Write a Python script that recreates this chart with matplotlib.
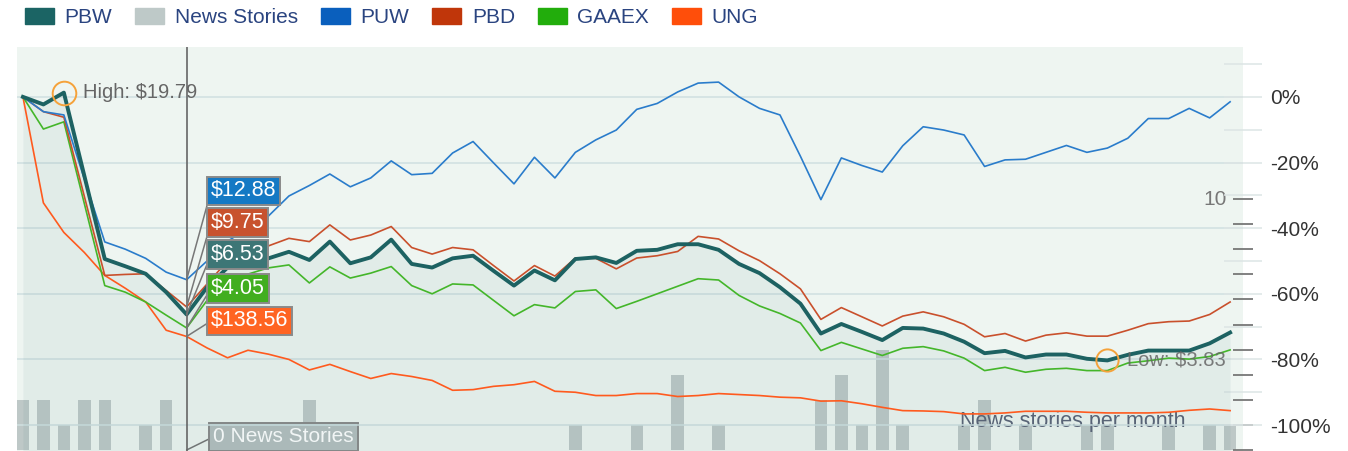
import numpy as np
import matplotlib
matplotlib.use("Agg")
import matplotlib.pyplot as plt
from matplotlib.patches import Patch
from matplotlib.ticker import FixedLocator, FuncFormatter

plt.rcParams['font.family'] = ['Liberation Sans', 'DejaVu Sans']

# monthly % change, 60 months
pbw = [0, -2.3, 1.3, -24, -49.4, -51.6, -53.9, -59.5, -66.3, -58,
       -52, -50, -49.2, -47.2, -49.7, -44.1, -50.7, -48.9, -43.5, -50.9,
       -52.0, -49.2, -48.4, -53.0, -57.5, -52.9, -55.9, -49.4, -48.9, -50.6,
       -46.9, -46.6, -44.9, -44.9, -46.6, -50.9, -53.7, -58.0, -63.0, -72.1,
       -69.2, -71.6, -74.1, -70.4, -70.6, -72.1, -74.6, -78.1, -77.4, -79.4,
       -78.5, -78.5, -79.8, -80.3, -78.6, -77.3, -77.3, -77.3, -75.1, -71.8]
puw = [0, -4.5, -5.5, -25, -44.2, -46.4, -49.2, -53.4, -55.7, -50,
       -44, -40, -36.3, -30.2, -27, -23.5, -27.4, -24.7, -19.5, -23.7,
       -23.3, -17.1, -13.6, -20.1, -26.5, -18.4, -24.7, -16.9, -13.1, -10.1,
       -3.8, -2.0, 1.5, 4.2, 4.5, 0, -3.5, -5.5, -18.1, -31.3,
       -18.6, -20.9, -22.9, -14.9, -9.1, -10.1, -11.6, -21.2, -19.2, -19.0,
       -16.9, -14.8, -16.9, -15.6, -12.6, -6.6, -6.6, -3.5, -6.4, -1.5]
pbd = [0, -4.5, -6.2, -30.3, -54.4, -54.1, -53.9, -59, -64.0, -57,
       -50, -47, -45.4, -43.1, -44.1, -39.0, -43.6, -42.1, -39.5, -45.9,
       -47.9, -45.9, -46.6, -51.4, -56.1, -51.4, -54.6, -49.1, -49.2, -52.4,
       -49.1, -48.4, -47.1, -42.5, -43.3, -46.9, -49.9, -53.9, -58.5, -67.8,
       -64.2, -67.0, -69.8, -66.8, -65.5, -67.0, -69.3, -73.1, -72.1, -74.4,
       -72.6, -71.9, -72.9, -72.9, -71.1, -69.1, -68.5, -68.3, -66.3, -62.5]
gaaex = [0, -9.8, -7.6, -32.5, -57.5, -59.5, -62.5, -66.5, -70.4, -62,
         -57, -54, -52.1, -51.2, -56.7, -51.8, -55.2, -53.7, -51.7, -57.5,
         -60.0, -57.0, -57.3, -62.0, -66.7, -63.3, -64.3, -59.3, -58.8, -64.5,
         -62.3, -60.0, -57.7, -55.4, -55.8, -60.5, -63.7, -66.0, -68.9, -77.3,
         -74.8, -76.8, -78.8, -76.6, -76.1, -77.4, -79.6, -83.4, -82.4, -83.9,
         -83.0, -82.7, -83.4, -83.4, -81.1, -80.4, -79.6, -79.9, -79.1, -77.1]
ung = [0, -32.3, -41.3, -47.4, -54.4, -58.3, -62.5, -71.1, -73.0, -76.5,
       -79.5, -77.2, -78.4, -80.0, -83.2, -81.5, -83.7, -85.8, -84.3, -85.2,
       -86.4, -89.4, -89.2, -88.2, -87.7, -86.7, -89.7, -90.0, -91.0, -91.0,
       -90.4, -90.4, -91.3, -91.0, -90.4, -90.7, -91.0, -91.5, -91.7, -92.7,
       -92.6, -93.5, -94.6, -95.6, -95.7, -95.9, -96.6, -96.6, -96.3, -95.8,
       -95.8, -95.8, -96.1, -96.3, -96.3, -96.3, -96.1, -95.5, -95.1, -95.6]
news = [2, 2, 1, 2, 2, 0, 1, 2, 0, 0,
        0, 0, 0, 0, 2, 0, 0, 0, 0, 0,
        0, 0, 0, 0, 0, 0, 0, 1, 0, 0,
        1, 0, 3, 0, 1, 0, 0, 0, 0, 2,
        3, 1, 4, 1, 0, 0, 1, 2, 0, 1,
        0, 0, 1, 1, 0, 0, 1, 0, 1, 1]

year_marks = [6, 18, 30, 42, 54]
cursor = 8
tip_labels = ['$12.88', '$9.75', '$6.53', '$4.05', '$138.56']
high_idx, high_text = 2, 'High: $19.79'
low_idx, low_text = 53, 'Low: $3.83'

idx = np.arange(len(pbw))

fig = plt.figure(figsize=(13.48, 4.51), dpi=100)
ax = fig.add_axes([17 / 1348, 0, 1226 / 1348, 404 / 451])
ax2 = ax.twinx()

# news bars (bottom axes)
ax.set_facecolor('#eef5f1')
ax.bar(idx, news, width=0.61, color='#bec8c7', zorder=1)
ax.set_ylim(-0.04, 16.06)
ax.set_xlim(-0.29, 59.63)
ax.yaxis.tick_right()
ax.set_yticks(range(0, 11))
ax.set_yticklabels([])
ax.tick_params(axis='y', direction='inout', length=14, width=1.3, color='#777')
ax.set_xticks([])
ax.annotate('10', xy=(1, 10), xycoords=('axes fraction', 'data'),
            xytext=(-12, 0), textcoords='offset points', ha='right', va='center',
            fontsize=15, color='#777')
ax.text(0.9527, 0.072, 'News stories per month', transform=ax.transAxes,
        ha='right', va='center', fontsize=15.5, color='#5c6478', zorder=5)

# price lines (top axes)
ax2.patch.set_visible(False)
ax2.set_ylim(-107.9, 15.2)
ax2.set_xlim(-0.29, 59.63)
ax2.fill_between(idx, pbw, -108, color='#1b6464', alpha=0.06, lw=0, zorder=1)
ax2.plot(idx, ung, color='#ff5a1e', lw=1.2, zorder=3)
ax2.plot(idx, gaaex, color='#44b62a', lw=1.2, zorder=3)
ax2.plot(idx, pbd, color='#c9502c', lw=1.2, zorder=3)
ax2.plot(idx, puw, color='#2a7ccb', lw=1.2, zorder=3)
ax2.plot(idx, pbw, color='#1d6262', lw=2.8, zorder=4)

ax2.yaxis.set_major_locator(FixedLocator(range(0, -101, -20)))
ax2.yaxis.set_minor_locator(FixedLocator(range(10, -100, -20)))
ax2.yaxis.set_major_formatter(FuncFormatter(lambda v, p: f'{v:.0f}%'))
ax2.tick_params(axis='y', which='both', direction='inout', length=27, width=1.1,
                color='#dde5e5', labelsize=15, labelcolor='#333', pad=6)
ax2.set_xticks(year_marks)
ax2.set_xticklabels([])
ax2.tick_params(axis='x', length=0)
ax2.grid(True, color='#cfe0e1', lw=1.1, zorder=0)
ax2.set_axisbelow(True)
for a in (ax, ax2):
    for s in a.spines.values():
        s.set_visible(False)

# high / low markers
ax2.plot(high_idx, pbw[high_idx], 'o', mfc='none', mec='#f5a23a', ms=17, mew=1.4, zorder=6)
ax2.annotate(high_text, xy=(high_idx, pbw[high_idx]), xytext=(14, 0),
             textcoords='offset points', va='center', fontsize=14.5, color='#666', zorder=6)
ax2.plot(low_idx, pbw[low_idx], 'o', mfc='none', mec='#f5a23a', ms=16, mew=1.4, zorder=6)
ax2.annotate(low_text, xy=(low_idx, pbw[low_idx]), xytext=(14, 0),
             textcoords='offset points', va='center', fontsize=14.5, color='#666',
             alpha=0.85, zorder=6)

# cursor + tooltips
ax2.axvline(cursor, color='#666', lw=1.2, zorder=7)
tip_series = [puw, pbd, pbw, gaaex, ung]
tip_colors = ['#1479c4', '#c8522e', '#3d7676', '#41ae1f', '#ff6422']
tip_y = [260, 228.5, 196.5, 162.5, 130]
for lab, ser, col, ty in zip(tip_labels, tip_series, tip_colors, tip_y):
    ax2.annotate(lab, xy=(cursor, ser[cursor]), xytext=(211, ty),
                 textcoords='figure pixels', va='center', ha='left',
                 fontsize=15.5, color='white', zorder=8,
                 bbox=dict(boxstyle='square,pad=0.17', fc=col, ec='#8a8a8a', lw=1.4),
                 arrowprops=dict(arrowstyle='-', color='#777', lw=1.1,
                                 shrinkA=0, shrinkB=0, relpos=(0, 0.5)))
ax.annotate('0 News Stories', xy=(cursor, news[cursor]), xytext=(213, 14),
            textcoords='figure pixels', va='center', ha='left',
            fontsize=15, color='white', zorder=8, annotation_clip=False,
            bbox=dict(boxstyle='square,pad=0.2', fc='#b5bfbf', ec='#8a8a8a', lw=1.4),
            arrowprops=dict(arrowstyle='-', color='#777', lw=1.1,
                            shrinkA=0, shrinkB=0, relpos=(0, 0.5)))

# legend
handles = [Patch(color='#1b6464'), Patch(color='#bec9c8'), Patch(color='#0a5fbd'),
           Patch(color='#c0360a'), Patch(color='#22ad0c'), Patch(color='#ff4e0a')]
labels = ['PBW', 'News Stories', 'PUW', 'PBD', 'GAAEX', 'UNG']
leg = fig.legend(handles, labels, ncol=6, loc='center left',
                 bbox_to_anchor=(25 / 1348, 1 - 17.5 / 451), frameon=False,
                 fontsize=15, handlelength=1.4, handleheight=0.85,
                 handletextpad=0.5, columnspacing=1.1, borderpad=0, borderaxespad=0)
for t in leg.get_texts():
    t.set_color('#2a4480')

fig.savefig('out.png', dpi=100)
